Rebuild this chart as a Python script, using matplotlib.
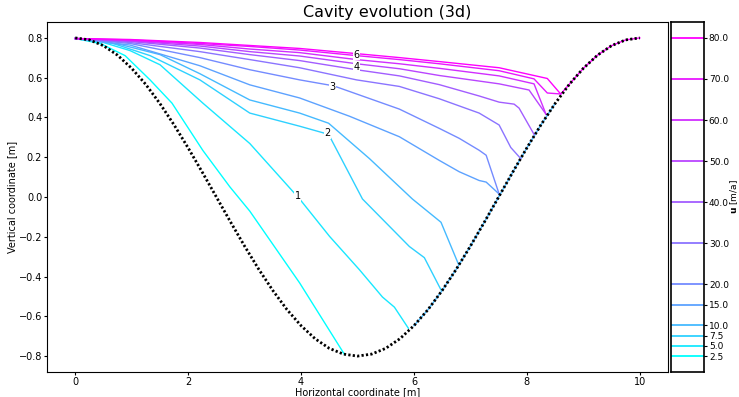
import numpy as np
import matplotlib
matplotlib.use('Agg')
import matplotlib.pyplot as plt

# contour levels of u [m/a]
levels = [2.5, 5.0, 7.5, 10, 15, 20, 30, 40, 50, 60, 70, 80]

# bed (cavity roof), every 0.25 m
bed_y = [0.800, 0.790, 0.761, 0.713, 0.647, 0.566, 0.470, 0.363, 0.247, 0.125,
         0.000, -0.125, -0.247, -0.363, -0.470, -0.566, -0.647, -0.713, -0.761, -0.790,
         -0.800, -0.790, -0.761, -0.713, -0.647, -0.566, -0.470, -0.363, -0.247, -0.125,
         0.000, 0.125, 0.247, 0.363, 0.470, 0.566, 0.647, 0.713, 0.761, 0.790, 0.800]
bed_x = np.linspace(0, 10, len(bed_y))

# contour lines (x, y) per level
x_u2_5 = [0, 0.442, 0.883, 1.325, 1.714, 2.261, 2.739, 3.092, 3.975, 4.770]
y_u2_5 = [0.797, 0.772, 0.711, 0.589, 0.472, 0.234, 0.051, -0.071, -0.432, -0.792]

x_u5 = [0, 0.442, 0.972, 1.502, 2.261, 3.092, 3.975, 4.505, 5.035, 5.442, 5.654, 5.901]
y_u5 = [0.797, 0.782, 0.736, 0.665, 0.472, 0.269, -0.010, -0.198, -0.366, -0.503, -0.554, -0.660]

x_u7_5 = [0, 0.618, 1.325, 2.208, 3.092, 3.975, 4.488, 5.088, 5.919, 6.184, 6.479]
y_u7_5 = [0.797, 0.777, 0.711, 0.589, 0.422, 0.356, 0.315, -0.010, -0.249, -0.305, -0.467]

x_u10 = [0, 0.795, 1.502, 2.208, 3.092, 3.975, 4.488, 5.212, 5.972, 6.479, 6.784]
y_u10 = [0.797, 0.767, 0.716, 0.620, 0.488, 0.422, 0.371, 0.193, -0.010, -0.127, -0.335]

x_u15 = [0, 0.972, 2.208, 3.092, 3.975, 4.859, 5.742, 6.449, 6.802, 7.155, 7.279, 7.509]
y_u15 = [0.797, 0.764, 0.660, 0.564, 0.498, 0.406, 0.303, 0.184, 0.127, 0.083, 0.075, 0.015]

x_u20 = [0, 0.972, 2.208, 3.092, 3.975, 4.576, 5.742, 6.449, 6.802, 7.155, 7.279, 7.509]
y_u20 = [0.797, 0.772, 0.701, 0.640, 0.589, 0.559, 0.442, 0.345, 0.295, 0.235, 0.210, 0.015]

x_u30 = [0, 0.972, 2.208, 3.092, 3.975, 4.982, 5.742, 6.449, 7.155, 7.509, 7.715, 7.892]
y_u30 = [0.797, 0.777, 0.731, 0.691, 0.650, 0.589, 0.556, 0.494, 0.422, 0.362, 0.249, 0.193]

x_u40 = [0, 0.972, 2.208, 3.092, 3.975, 4.982, 5.742, 6.449, 7.155, 7.509, 7.774, 7.862, 8.127]
y_u40 = [0.797, 0.782, 0.749, 0.716, 0.686, 0.640, 0.609, 0.565, 0.508, 0.477, 0.467, 0.447, 0.315]

x_u50 = [0, 0.972, 2.208, 3.092, 3.975, 4.982, 5.742, 6.449, 7.509, 8.039, 8.339]
y_u50 = [0.797, 0.785, 0.759, 0.731, 0.709, 0.670, 0.645, 0.611, 0.569, 0.538, 0.416]

x_u60 = [0, 0.972, 2.208, 3.092, 3.975, 4.982, 5.742, 6.449, 7.509, 8.127, 8.339]
y_u60 = [0.797, 0.787, 0.767, 0.744, 0.726, 0.691, 0.670, 0.647, 0.609, 0.569, 0.416]

x_u70 = [0, 0.972, 2.208, 3.092, 3.975, 4.982, 5.742, 6.449, 7.509, 8.127, 8.362, 8.604]
y_u70 = [0.797, 0.790, 0.772, 0.757, 0.739, 0.711, 0.691, 0.670, 0.635, 0.594, 0.523, 0.518]

x_u80 = [0, 0.972, 2.208, 3.092, 3.975, 4.982, 5.742, 6.449, 7.509, 8.362, 8.599,
         8.75, 9.0, 9.25, 9.5, 9.75, 10.0]
y_u80 = [0.797, 0.792, 0.777, 0.762, 0.747, 0.721, 0.701, 0.681, 0.650, 0.596, 0.518,
         0.566, 0.647, 0.713, 0.761, 0.790, 0.800]

lines_x = [x_u2_5, x_u5, x_u7_5, x_u10, x_u15, x_u20, x_u30, x_u40, x_u50, x_u60, x_u70, x_u80]
lines_y = [y_u2_5, y_u5, y_u7_5, y_u10, y_u15, y_u20, y_u30, y_u40, y_u50, y_u60, y_u70, y_u80]

# inline labels
lab_text = ['1', '2', '3', '4', '6']
lab_x = [3.94, 4.47, 4.56, 4.98, 4.98]
lab_y = [0.005, 0.32, 0.554, 0.655, 0.716]

# one colour per level, spread evenly over the colormap
cmap = plt.get_cmap('cool')
colors = cmap(np.linspace(0, 1, len(levels)))

fig = plt.figure(figsize=(7.39, 3.97), dpi=100)
ax = fig.add_axes([47/739, 25/397, 621/739, 350/397])
cax = fig.add_axes([671/739, 25/397, 33/739, 350/397])

# lower-right flank where the slow contours run along the bed
flank = (bed_x >= 5.9) & (bed_x <= 8.6)
ax.plot(bed_x[flank], np.array(bed_y)[flank], color=colors[3], lw=1.0)

for c, xs, ys in zip(colors, lines_x, lines_y):
    ax.plot(xs, ys, color=c, lw=1.0)

ax.plot(bed_x, bed_y, color='k', lw=2.0, ls=(0, (0.8, 0.8)))

for t, x, y in zip(lab_text, lab_x, lab_y):
    ax.text(x, y, t, fontsize=7, ha='center', va='center',
            bbox=dict(facecolor='white', edgecolor='none', pad=0.5))

fig.text(387/739, 1 - 13/397, 'Cavity evolution (3d)', fontsize=11.5,
         ha='center', va='center')
ax.set_xlabel('Horizontal coordinate [m]', fontsize=7)
ax.xaxis.set_label_coords(0.5, -0.042)
ax.set_ylabel('Vertical coordinate [m]', fontsize=7, labelpad=1)
ax.tick_params(labelsize=7, length=2, pad=1.5)
ax.set_xticks([0, 2, 4, 6, 8, 10])
ax.set_yticks(np.arange(-0.8, 0.81, 0.2))
ax.set_xlim(-0.5, 10.5)
ax.set_ylim(-0.88, 0.88)

# colorbar with the contour levels as lines
pad = 0.05 * (levels[-1] - levels[0])
for c, lev in zip(colors, levels):
    cax.axhline(lev, color=c, lw=1.3)
cax.set_ylim(levels[0] - pad, levels[-1] + pad)
cax.set_xticks([])
cax.yaxis.tick_right()
cax.set_yticks(levels)
cax.set_yticklabels(['%.1f' % v for v in levels])
cax.tick_params(labelsize=6.5, length=2.5, pad=1)
for s in cax.spines.values():
    s.set_linewidth(1.2)
fig.text(734/739, 1 - 197/397, r'$\mathbf{u}$ [m/a]', fontsize=6.5, rotation=90,
         ha='center', va='center')

fig.savefig('out.png', dpi=100)
